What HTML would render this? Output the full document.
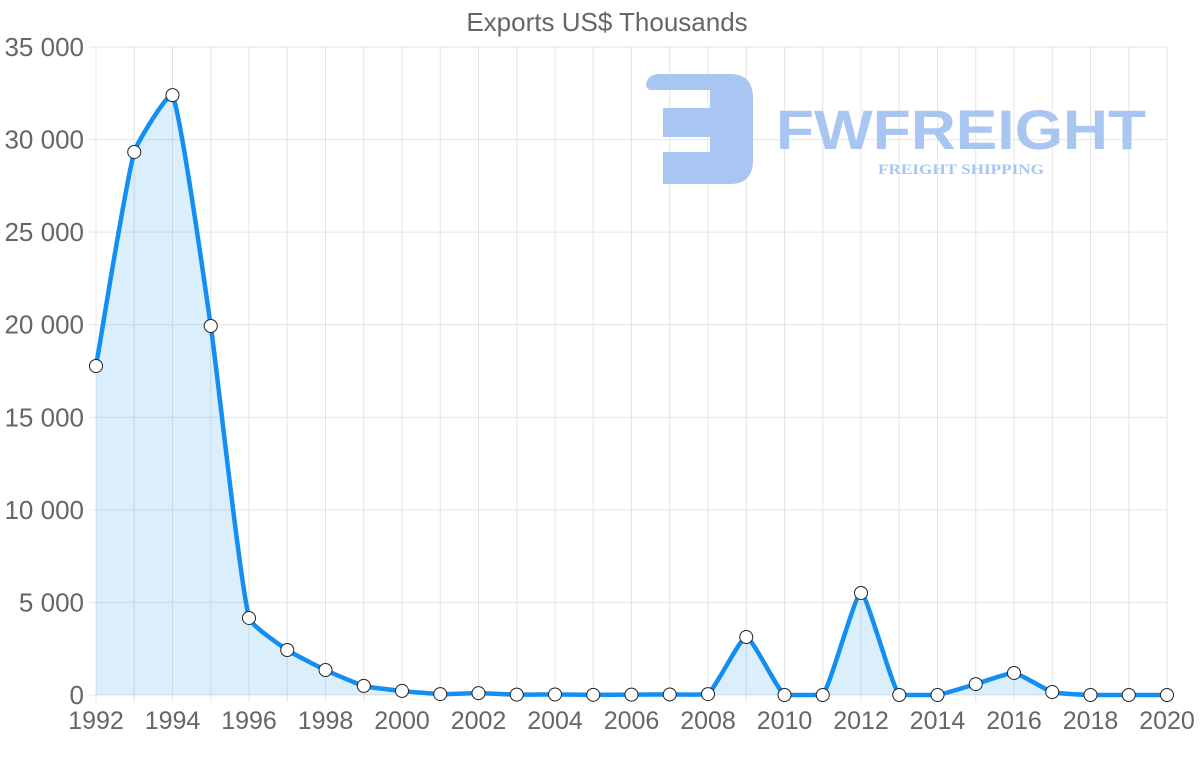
<!DOCTYPE html>
<html><head><meta charset="utf-8"><style>
html,body{margin:0;padding:0;background:#fff;width:1200px;height:763px;overflow:hidden}
svg{display:block}
text{font-family:"Liberation Sans",sans-serif}
</style></head><body>
<svg id="s" width="1200" height="763" xmlns="http://www.w3.org/2000/svg">
<text x="607" y="31" font-size="26" fill="#666" text-anchor="middle">Exports US$ Thousands</text>
<g id="grid"></g>
<g fill="#a9c6f2">
<path d="M646,84 Q648,74 660,74 L730,74 Q753,74 753,98 L753,160 Q753,184 730,184 L663,184 L663,152 L710,152 L710,137 L663,137 L663,108 L710,108 L710,90 L652,90 Q646,90 646,84 Z"/>
<text x="776" y="149" font-size="56" font-weight="bold" textLength="370" lengthAdjust="spacingAndGlyphs">FWFREIGHT</text>
<text x="878" y="174" font-size="15" font-weight="bold" style="font-family:'Liberation Serif',serif" textLength="166" lengthAdjust="spacingAndGlyphs">FREIGHT SHIPPING</text>
</g>
<g id="plot"></g>
</svg>
<script>
const X0=96,X1=1167,Y0=695,Y1=47;
const data=[17770,29330,32400,19930,4160,2430,1350,490,220,50,100,20,30,10,20,30,50,3130,0,0,5510,0,0,590,1190,160,0,0,0];
const px=i=>X0+(X1-X0)*i/28, py=v=>Y0-(Y0-Y1)*v/35000;
let g='';
for(let k=0;k<=7;k++){const y=py(k*5000);g+=`<line x1="89" x2="${X1}" y1="${y}" y2="${y}" stroke="#e4e4e4"/>`;
g+=`<text x="84" y="${y+9}" font-size="26" fill="#666" text-anchor="end">${k==0?'0':k*5+' 000'}</text>`;}
for(let i=0;i<=28;i++){const x=px(i);g+=`<line x1="${x}" x2="${x}" y1="${Y1}" y2="${Y0+7}" stroke="#e4e4e4"/>`;
if(i%2==0)g+=`<text x="${x}" y="729" font-size="25" fill="#666" text-anchor="middle">${1992+i}</text>`;}
document.getElementById('grid').innerHTML=g;
const P=data.map((v,i)=>({x:px(i),y:py(v)}));
const t=0.15;
const cps=P.map((p,i)=>{const a=P[Math.max(0,i-1)],c=P[Math.min(P.length-1,i+1)];
const d01=Math.hypot(p.x-a.x,p.y-a.y),d12=Math.hypot(c.x-p.x,c.y-p.y);
let fa=d01/(d01+d12)||0,fb=d12/(d01+d12)||0;fa*=t;fb*=t;
let py1=p.y-fa*(c.y-a.y),py2=p.y+fb*(c.y-a.y);
py1=Math.min(Math.max(py1,Y1),Y0);py2=Math.min(Math.max(py2,Y1),Y0);
return {px:p.x-fa*(c.x-a.x),py:py1,nx:p.x+fb*(c.x-a.x),ny:py2};});
let d=`M${P[0].x},${P[0].y}`;
for(let i=1;i<P.length;i++)d+=` C${cps[i-1].nx},${cps[i-1].ny} ${cps[i].px},${cps[i].py} ${P[i].x},${P[i].y}`;
let h=`<path d="${d} L${X1},${Y0} L${X0},${Y0} Z" fill="rgba(54,162,235,0.18)"/>`;
h+=`<path d="${d}" fill="none" stroke="#138ef2" stroke-width="4.5"/>`;
P.forEach(p=>h+=`<circle cx="${p.x}" cy="${p.y}" r="6.5" fill="#fff" stroke="#222" stroke-width="1"/>`);
document.getElementById('plot').innerHTML=h;
</script>
</body></html>
